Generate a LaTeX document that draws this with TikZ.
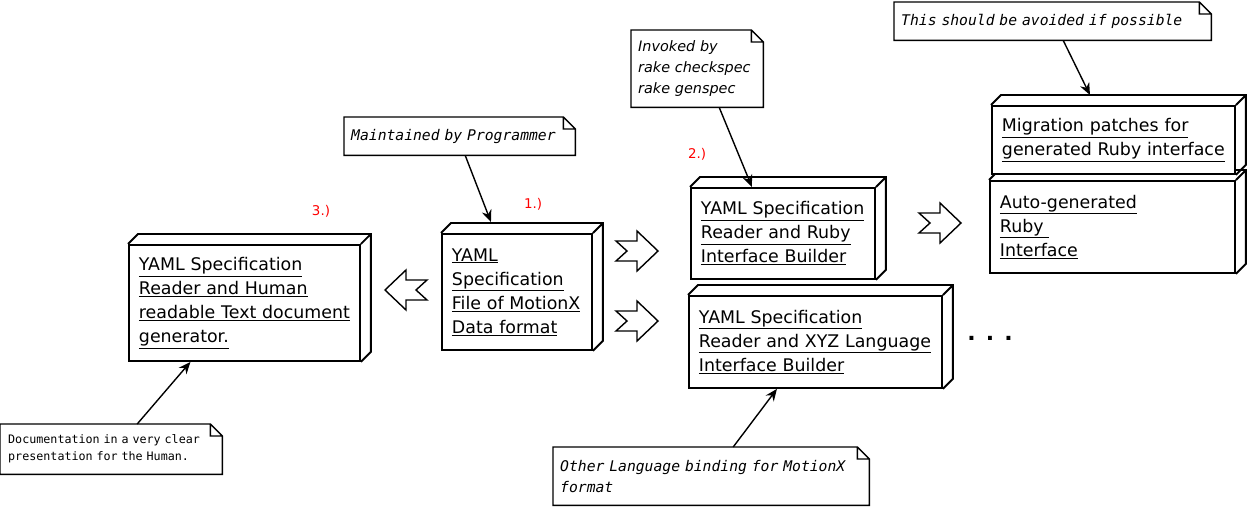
\documentclass[tikz,border=0pt]{standalone}
\usepackage{fontspec}
\setmainfont{DejaVu Sans}
\setmonofont{DejaVu Sans Mono}
\usepackage{xcolor}
\usepackage{tikz}
\usetikzlibrary{arrows.meta,calc}
\definecolor{stepRed}{RGB}{255,0,0}
\tikzset{
  dnode/.style={rectangle, draw, line width=1.9pt, fill=white, anchor=north west,
                align=left, inner xsep=10pt, inner ysep=0pt,
                font=\fontsize{17.4}{24}\selectfont},
  note/.style={rectangle, anchor=north west, align=left, inner xsep=7pt, inner ysep=0pt,
               font=\fontsize{14.7}{21}\selectfont\ttfamily\itshape},
  noteline/.style={line width=1.4pt, line join=miter},
  link/.style={-{Stealth[length=12pt,width=10pt]}, line width=1.4pt},
  steplbl/.style={text=stepRed, font=\fontsize{13.4}{14}\selectfont, inner sep=0pt},
  fatarrow/.pic={
    \draw[line width=1.4pt, line join=miter, fill=white]
      (21,0) -- (0,-20) -- (0,-10) -- (-21,-10) -- (-10,0)
      -- (-21,10) -- (0,10) -- (0,20) -- cycle;},
}
% 3d deployment node: [opts]{name}{corner}{text width}{height}{text}
\newcommand{\DevNode}[6][]{%
  \node[dnode, text width=#4pt, minimum height=#5pt, #1] (#2) at (#3) {#6};
  \draw[line width=1.9pt, line join=miter]
    (#2.north west) -- ++(10,-10) -| ([shift={(10,-10)}]#2.south east) -- (#2.south east)
    (#2.north east) -- ++(10,-10);}
% note with folded corner: [opts]{name}{corner}{text width}{height}{text}
\newcommand{\NoteBox}[6][]{%
  \node[note, text width=#4pt, minimum height=#5pt, #1] (#2) at (#3) {#6};
  \draw[noteline]
    (#2.north west) -- ([xshift=-12pt]#2.north east) -- ([yshift=-12pt]#2.north east)
    -- (#2.south east) -- (#2.south west) -- cycle
    ([xshift=-12pt]#2.north east) |- ([yshift=-12pt]#2.north east);}

\begin{document}
\begin{tikzpicture}[x=1pt, y=-1pt]
  \useasboundingbox (0,0) rectangle (1247,508);

  \DevNode{hdoc}{128,244}{211}{116}{%
    \underline{YAML Specification}\\\underline{Reader and Human}\\
    \underline{readable Text document}\\\underline{generator.}}
  \DevNode{spec}{441,233}{130}{116}{%
    \underline{YAML}\\\underline{Specification}\\
    \underline{File of MotionX}\\\underline{Data format}}
  \DevNode{ruby}{690,187}{164}{91}{%
    \underline{YAML Specification}\\\underline{Reader and Ruby}\\
    \underline{Interface Builder}}
  \DevNode{xyz}{688,295}{233}{92}{%
    \underline{YAML Specification}\\\underline{Reader and XYZ Language}\\
    \underline{Interface Builder}}
  \DevNode{autogen}{989,180}{225}{92}{%
    \underline{Auto-generated}\\\underline{Ruby }\\\underline{Interface}}
  \DevNode{migr}{991,105}{223}{68}{%
    \underline{Migration patches for}\\\underline{generated Ruby interface}}

  \NoteBox{nMaint}{344,117}{217}{38}{Maintained by Programmer}
  \NoteBox[font=\fontsize{14.4}{21}\selectfont\itshape]{nInvoke}{631,30}{118}{77}{%
    Invoked by\\rake checkspec\\rake genspec}
  \NoteBox{nAvoid}{894,2}{303}{38}{This should be avoided if possible}
  \NoteBox[inner xsep=8pt, font=\fontsize{11.7}{17}\selectfont\ttfamily]{nDoc}{0,424}{206}{50}{%
    Documentation in a very clear\\presentation for the Human.}
  \NoteBox{nOther}{553,447}{302}{58}{%
    Other Language binding for MotionX\\format}

  \draw[link] ([xshift=5.5pt]nMaint.south) -- ([xshift=-26pt,yshift=11pt]spec.north);
  \draw[link] ([xshift=22pt]nInvoke.south) -- ([xshift=-31pt]ruby.north);
  \draw[link] ([xshift=10.5pt]nAvoid.south) -- ([xshift=-23.5pt,yshift=10pt]migr.north);
  \draw[link] ([xshift=26pt]nDoc.north) -- ([xshift=-54pt]hdoc.south);
  \draw[link] ([xshift=22pt]nOther.north) -- ([xshift=-38.5pt]xyz.south);

  \pic[rotate=180] at (406,290) {fatarrow};
  \pic at (637,251) {fatarrow};
  \pic at (637,321) {fatarrow};
  \pic at (940,223) {fatarrow};

  \node[steplbl] (lbl1) at (533,204) {1.)};
  \node[steplbl] (lbl2) at (697,154) {2.)};
  \node[steplbl] (lbl3) at (321,211) {3.)};
  \node[font=\fontsize{22}{22}\selectfont\bfseries, inner sep=0pt] (more) at (990,338) {. . .};
\end{tikzpicture}
\end{document}
